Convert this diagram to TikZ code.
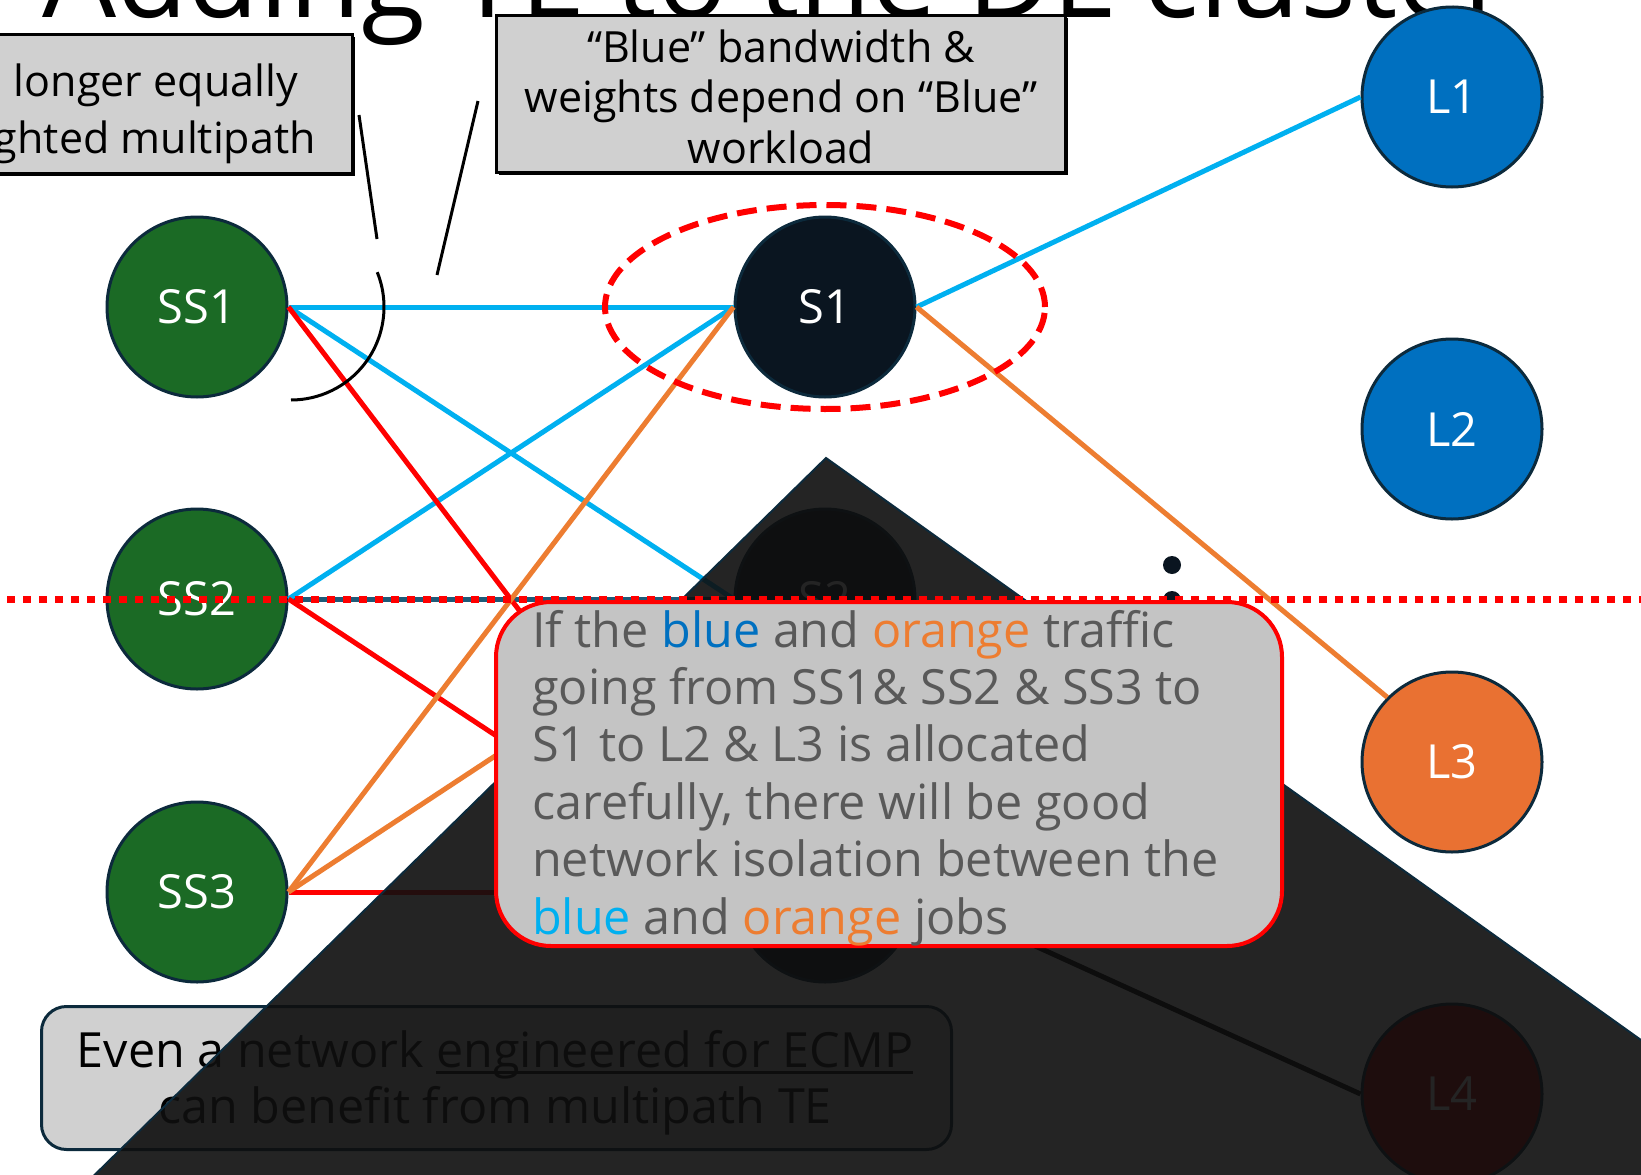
\documentclass[tikz,border=0pt]{standalone}
\usepackage{fontspec}
\setmainfont{Open Sans}
\usetikzlibrary{shadows,shapes.geometric}
\definecolor{ssgreen}{HTML}{1B6A25}
\definecolor{nborder}{HTML}{0C2A3C}
\definecolor{sfill}{HTML}{0A1520}
\definecolor{lblue}{HTML}{0070C0}
\definecolor{lorange}{HTML}{E97132}
\definecolor{lred}{HTML}{C00000}
\definecolor{eblue}{HTML}{00B0F0}
\definecolor{ered}{HTML}{FF0000}
\definecolor{eorange}{HTML}{ED7D31}
\definecolor{esteel}{HTML}{1E5A78}
\definecolor{boxgrey}{HTML}{D0D0D0}
\definecolor{callgrey}{HTML}{C4C4C4}
\definecolor{tgrey}{HTML}{595959}
\definecolor{trifill}{HTML}{0F0F0F}
\newcommand\ulx[1]{\setbox0\hbox{#1}\rlap{\rule[-7pt]{\wd0}{3pt}}\box0}
\tikzset{
  netnode/.style={circle, draw=nborder, line width=3, minimum size=180, inner sep=0, text=white, font=\fontsize{47}{55}\selectfont},
  edge/.style={line width=5},
  topbox/.style={draw=black, line width=2.5, fill=boxgrey, inner sep=0, drop shadow={shadow xshift=3pt, shadow yshift=-3pt, opacity=1, fill=black}},
  toptext/.style={inner sep=0, font=\fontsize{43}{50}\selectfont},
  calltext/.style={inner sep=0, anchor=base west, text=tgrey, font=\fontsize{48.5}{57}\selectfont},
  bottext/.style={inner sep=0, anchor=base, text=black, font=\fontsize{48.5}{57}\selectfont},
  pointer/.style={line width=3, black}
}
\begin{document}
\begin{tikzpicture}[x=1pt,y=-1pt]
\clip (0,0) rectangle (1641,1175);
\fill[white] (0,0) rectangle (1641,1175);

% title (mostly cut off)
\node[inner sep=0, anchor=base west, font=\fontsize{117}{130}\selectfont] (title) at (42,17) {Adding TE to the DL cluster};

% top boxes
\node[topbox, anchor=north west, minimum width=411, minimum height=139] (boxA) at (-60,33) {};
\node[toptext, anchor=base east] (boxAt1) at (298,96) {longer equally};
\node[toptext, anchor=base east] (boxAt2) at (316,153) {ghted multipath};
\node[topbox, anchor=north west, minimum width=569, minimum height=157] (boxB) at (495,14) {};
\node[toptext, anchor=base] (boxBt1) at (781,62) {“Blue” bandwidth \&};
\node[toptext, anchor=base] (boxBt2) at (781,112) {weights depend on “Blue”};
\node[toptext, anchor=base] (boxBt3) at (781,163) {workload};

% nodes
\node[netnode, fill=ssgreen] (SS1) at (197,307) {SS1};
\node[netnode, fill=ssgreen] (SS2) at (197,599) {SS2};
\node[netnode, fill=ssgreen] (SS3) at (197,892) {SS3};
\node[netnode, fill=sfill] (S1) at (825,307) {S1};
\node[netnode, fill=sfill] (S2) at (825,599) {S2};
\node[netnode, fill=sfill] (S3) at (825,892) {S3};
\node[netnode, fill=lblue] (L1) at (1452,97) {L1};
\node[netnode, fill=lblue] (L2) at (1452,429) {L2};
\node[netnode, fill=lorange] (L3) at (1452,762) {L3};
\node[netnode, fill=lred] (L4) at (1452,1094) {L4};

% edges
\draw[edge, esteel] (SS2.east) -- (S2.west);
\draw[edge, eblue] (SS1.east) -- (S1.west);
\draw[edge, eblue] (SS1.east) -- (S2.west);
\draw[edge, eblue] (SS2.east) -- (S1.west);
\draw[edge, ered] (SS1.east) -- (S3.west);
\draw[edge, ered] (SS2.east) -- (S3.west);
\draw[edge, ered] (SS3.east) -- (S3.west);
\draw[edge, eorange] (SS3.east) -- (S1.west);
\draw[edge, eorange] (SS3.east) -- (S2.west);
\draw[edge, eblue] (S1.east) -- (L1.west);
\draw[edge, eorange] (S1.east) -- (L3.135);
\draw[edge, black] (S3.east) -- (L4.west);

% S1 highlight
\node[draw=ered, line width=6, dash pattern=on 20 off 10, ellipse, minimum width=440, minimum height=204, inner sep=0] (S1ring) at (825,307) {};

% angle marker and pointers
\coordinate (arcc) at (291,307);
\draw[pointer] ([shift={(-22:93)}]arcc) arc[start angle=-22, end angle=90, radius=93];
\coordinate (pA1) at (359,115);
\coordinate (pA2) at (377,239);
\coordinate (pB1) at (478,101);
\coordinate (pB2) at (437,275);
\draw[pointer] (pA1) -- (pA2);
\draw[pointer] (pB1) -- (pB2);

% vertical dots
\fill[sfill] (1172,565) circle[radius=9];
\fill[sfill] (1172,600) circle[radius=9];
\fill[sfill] (1172,635) circle[radius=9];

% bottom box
\node[draw=nborder, line width=3, fill=boxgrey, rounded corners=25, anchor=north west, minimum width=910, minimum height=143, inner sep=0] (boxC) at (40,1005) {};
\node[bottext] (boxCt1) at (495,1067) {Even a network \ulx{engineered for ECMP}};
\node[bottext] (boxCt2) at (495,1123) {can benefit from multipath TE};

% dark overlay triangle
\draw[draw=nborder, line width=2, fill=trifill, fill opacity=0.91] (826,458) -- (2005,1300) -- (-33,1300) -- cycle;

% dotted separator
\draw[ered, line width=7, dash pattern=on 8 off 8] (7,599) -- (1641,599);

% callout
\node[draw=ered, line width=4, fill=callgrey, rounded corners=55, anchor=north west, minimum width=786, minimum height=344, inner sep=0] (call) at (494,600) {};
\node[calltext] (c1) at (532,647) {If the {\color{lblue}blue} and {\color{eorange}orange} traffic};
\node[calltext] (c2) at (532,704.4) {going from SS1\& SS2 \& SS3 to};
\node[calltext] (c3) at (532,761.8) {S1 to L2 \& L3 is allocated};
\node[calltext] (c4) at (532,819.2) {carefully, there will be good};
\node[calltext] (c5) at (532,876.6) {network isolation between the};
\node[calltext] (c6) at (532,934) {{\color{eblue}blue} and {\color{eorange}orange} jobs};
\end{tikzpicture}
\end{document}
